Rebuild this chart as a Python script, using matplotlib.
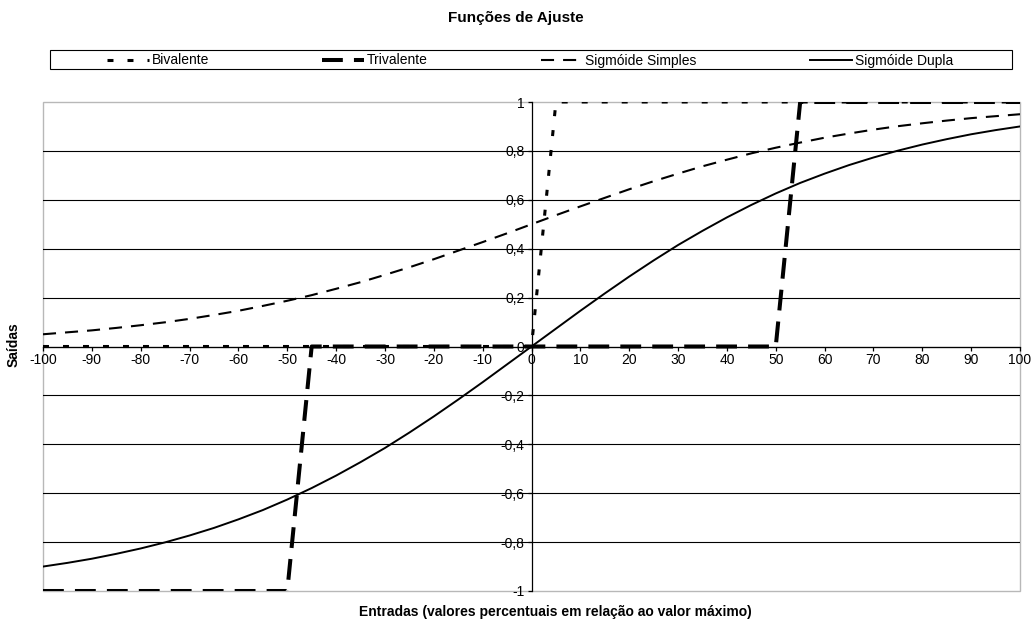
import matplotlib.pyplot as plt
from matplotlib.patches import Rectangle

# Entradas (percentual do valor máximo)
x = [-100, -95, -90, -85, -80, -75, -70, -65, -60, -55, -50,
     -45, -40, -35, -30, -25, -20, -15, -10, -5, 0,
     5, 10, 15, 20, 25, 30, 35, 40, 45, 50,
     55, 60, 65, 70, 75, 80, 85, 90, 95, 100]

bivalente = [0, 0, 0, 0, 0, 0, 0, 0, 0, 0, 0,
             0, 0, 0, 0, 0, 0, 0, 0, 0, 0,
             1, 1, 1, 1, 1, 1, 1, 1, 1, 1,
             1, 1, 1, 1, 1, 1, 1, 1, 1, 1]

trivalente = [-1, -1, -1, -1, -1, -1, -1, -1, -1, -1, -1,
              0, 0, 0, 0, 0, 0, 0, 0, 0, 0,
              0, 0, 0, 0, 0, 0, 0, 0, 0, 0,
              1, 1, 1, 1, 1, 1, 1, 1, 1, 1]

sigmoide_simples = [0.050, 0.058, 0.066, 0.076, 0.087, 0.099, 0.113, 0.129, 0.146, 0.166, 0.187,
                    0.210, 0.236, 0.263, 0.293, 0.324, 0.357, 0.392, 0.427, 0.463, 0.500,
                    0.537, 0.573, 0.608, 0.643, 0.676, 0.707, 0.737, 0.764, 0.790, 0.813,
                    0.834, 0.854, 0.871, 0.887, 0.901, 0.913, 0.924, 0.934, 0.942, 0.950]

sigmoide_dupla = [-0.900, -0.885, -0.868, -0.848, -0.826, -0.801, -0.773, -0.742, -0.707, -0.669, -0.626,
                  -0.579, -0.528, -0.473, -0.415, -0.352, -0.286, -0.217, -0.146, -0.073, 0.000,
                  0.073, 0.146, 0.217, 0.286, 0.352, 0.415, 0.473, 0.528, 0.579, 0.626,
                  0.669, 0.707, 0.742, 0.773, 0.801, 0.826, 0.848, 0.868, 0.885, 0.900]

x_ticks = [-100, -90, -80, -70, -60, -50, -40, -30, -20, -10, 0,
           10, 20, 30, 40, 50, 60, 70, 80, 90, 100]
y_ticks = [-1, -0.8, -0.6, -0.4, -0.2, 0, 0.2, 0.4, 0.6, 0.8, 1]
y_labels = ['-1', '-0,8', '-0,6', '-0,4', '-0,2', '0', '0,2', '0,4', '0,6', '0,8', '1']

plt.rcParams['font.family'] = ['Liberation Sans', 'DejaVu Sans']
plt.rcParams['lines.scale_dashes'] = False

W, H = 1033, 626
fig = plt.figure(figsize=(W / 100, H / 100), dpi=100)
ax = fig.add_axes([43 / W, 1 - 591 / H, (1020 - 43) / W, (591 - 102) / H])

# line styles (dash lengths in points)
ax.plot(x, bivalente, color='black', lw=2.2, dashes=(4.3, 10.1),
        dash_capstyle='butt', label='Bivalente', zorder=4)
ax.plot(x, trivalente, color='black', lw=2.9, dashes=(15, 8),
        dash_capstyle='butt', label='Trivalente', zorder=4)
ax.plot(x, sigmoide_simples, color='black', lw=1.5, dashes=(9.4, 6.5),
        dash_capstyle='butt', label='Sigmóide Simples', zorder=4)
ax.plot(x, sigmoide_dupla, color='black', lw=1.4, label='Sigmóide Dupla', zorder=4)

ax.set_xlim(-100, 100)
ax.set_ylim(-1, 1)

# axes cross at the origin
ax.spines['left'].set_position(('data', 0))
ax.spines['bottom'].set_position(('data', 0))
ax.spines['left'].set_linewidth(0.9)
ax.spines['bottom'].set_linewidth(0.9)
ax.spines['top'].set_visible(False)
ax.spines['right'].set_visible(False)

# light grey border of the plot area
ax.add_patch(Rectangle((0, 0), 1, 1, transform=ax.transAxes, fill=False,
                       ec='#b8b8b8', lw=1.0, clip_on=False, zorder=0))

ax.set_xticks(x_ticks)
ax.set_xticklabels([str(t) for t in x_ticks])
ax.set_yticks(y_ticks)
ax.set_yticklabels(y_labels)
ax.tick_params(axis='both', direction='out', length=3, width=0.9,
               labelsize=10, pad=2)

ax.yaxis.grid(True, color='black', lw=0.8)
ax.set_axisbelow(True)
gl = ax.yaxis.get_gridlines()
gl[0].set_visible(False)
gl[-1].set_visible(False)

fig.text(516 / W, 1 - 18 / H, 'Funções de Ajuste', ha='center', va='center',
         fontsize=11, fontweight='bold')
fig.text(555 / W, 1 - 612 / H, 'Entradas (valores percentuais em relação ao valor máximo)',
         ha='center', va='center', fontsize=10, fontweight='bold')
fig.text(14 / W, 1 - 345 / H, 'Saídas', ha='center', va='center',
         rotation=90, fontsize=10, fontweight='bold')

# legend across the top, inside its own box
leg = fig.legend(loc='center', ncol=4, mode='expand', frameon=False,
                 bbox_to_anchor=(107 / W, 1 - 70 / H, (953 - 107) / W, 19 / H),
                 borderaxespad=0, borderpad=0, handlelength=3.0, handletextpad=0.2,
                 fontsize=10)
fig.patches.append(Rectangle((50 / W, 1 - 69 / H), (1012 - 50) / W, 19 / H,
                             transform=fig.transFigure, fill=False,
                             ec='black', lw=0.8))

plt.savefig('out.png', dpi=100)
